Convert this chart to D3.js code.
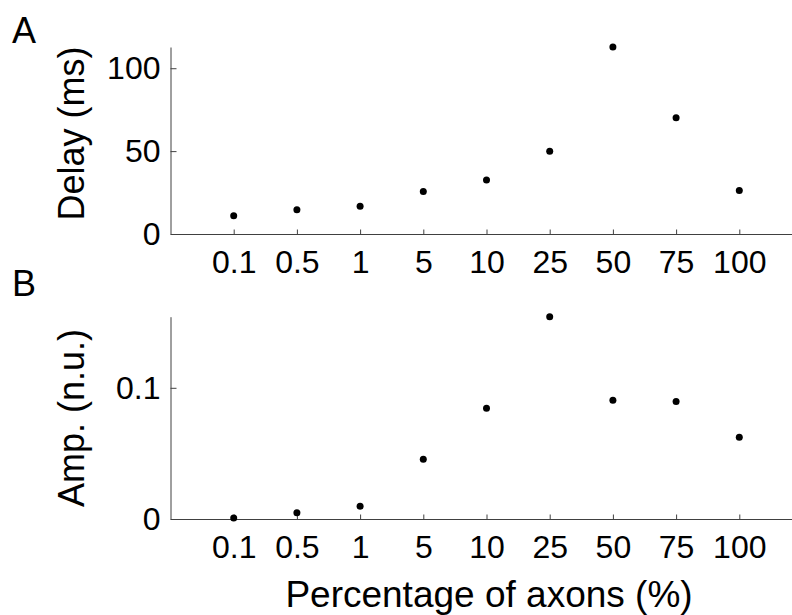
<!DOCTYPE html>
<html>
<head>
<meta charset="utf-8">
<script src="https://cdn.jsdelivr.net/npm/d3@7"></script>
<style>
  body { margin: 0; background: #fff; }
  text { font-family: "Liberation Sans", Helvetica, Arial, sans-serif; fill: #000; }
  .domain, .tick line { stroke: #404040; stroke-width: 1; }
</style>
</head>
<body>
<div id="chart"></div>
<script>
    var w = 792;
    var h = 615;

    // categories on the x axis (percentage of axons)
    var categories = ["0.1", "0.5", "1", "5", "10", "25", "50", "75", "100"];
    // panel A: delay in ms
    var delay = [11.0, 14.6, 16.8, 25.7, 32.6, 49.9, 112.8, 70.1, 26.3];
    // panel B: amplitude, normalised units
    var amp = [0.0008, 0.0048, 0.0097, 0.0456, 0.0845, 0.1542, 0.0906, 0.0896, 0.0624];
    // y tick values
    var delayTicks = [0, 50, 100];
    var ampTicks = [0, 0.1];

    var left = 170.5;
    var right = 802.5;   // axis runs past the picture edge

    var svg = d3.select("#chart")
            .append("svg")
            .attr("width", w)
            .attr("height", h);

    // x positions: category i sits at i+1 on a 0..10 scale
    var x = d3.scaleLinear()
              .domain([0, categories.length + 1])
              .range([left, right]);

    function drawPanel(values, ticks, top, bottom, ylabel, letter, letterY, labelY) {
        var y = d3.scaleLinear()
                  .domain([0, d3.max(values)])
                  .range([bottom, top]);

        var g = svg.append("g");

        // x axis with inward ticks
        var xAxis = d3.axisBottom(x)
                      .tickValues(d3.range(1, categories.length + 1))
                      .tickFormat(function(d) { return categories[d - 1]; })
                      .tickSizeInner(-4.5)
                      .tickSizeOuter(0)
                      .tickPadding(16);
        g.append("g")
         .attr("transform", "translate(0," + bottom + ")")
         .call(xAxis)
         .call(function(a) {
             a.selectAll("text").attr("font-size", 32).attr("font-family", null);
         });

        // y axis with inward ticks
        var yAxis = d3.axisLeft(y)
                      .tickValues(ticks)
                      .tickFormat(function(d) { return String(d); })
                      .tickSizeInner(-6)
                      .tickSizeOuter(0)
                      .tickPadding(10);
        g.append("g")
         .attr("transform", "translate(" + left + ",0)")
         .call(yAxis)
         .call(function(a) {
             a.selectAll("text").attr("font-size", 32).attr("font-family", null);
         });

        // the dots
        g.selectAll("circle")
         .data(values)
         .enter()
         .append("circle")
         .attr("cx", function(d, i) { return x(i + 1); })
         .attr("cy", function(d) { return y(d); })
         .attr("r", 3.5)
         .attr("fill", "#000");

        // y axis title
        g.append("text")
         .attr("transform", "translate(83.5," + labelY + ") rotate(-90)")
         .attr("text-anchor", "middle")
         .attr("font-size", 36)
         .text(ylabel);

        // panel letter
        g.append("text")
         .attr("x", 12)
         .attr("y", letterY)
         .attr("font-size", 36)
         .text(letter);
    }

    drawPanel(delay, delayTicks, 47, 234, "Delay (ms)", "A", 43, 133.5);
    drawPanel(amp, ampTicks, 316.7, 519, "Amp. (n.u.)", "B", 296, 418);

    // shared x axis title
    svg.append("text")
       .attr("x", 489)
       .attr("y", 607)
       .attr("text-anchor", "middle")
       .attr("font-size", 37)
       .text("Percentage of axons (%)");
</script>
</body>
</html>
